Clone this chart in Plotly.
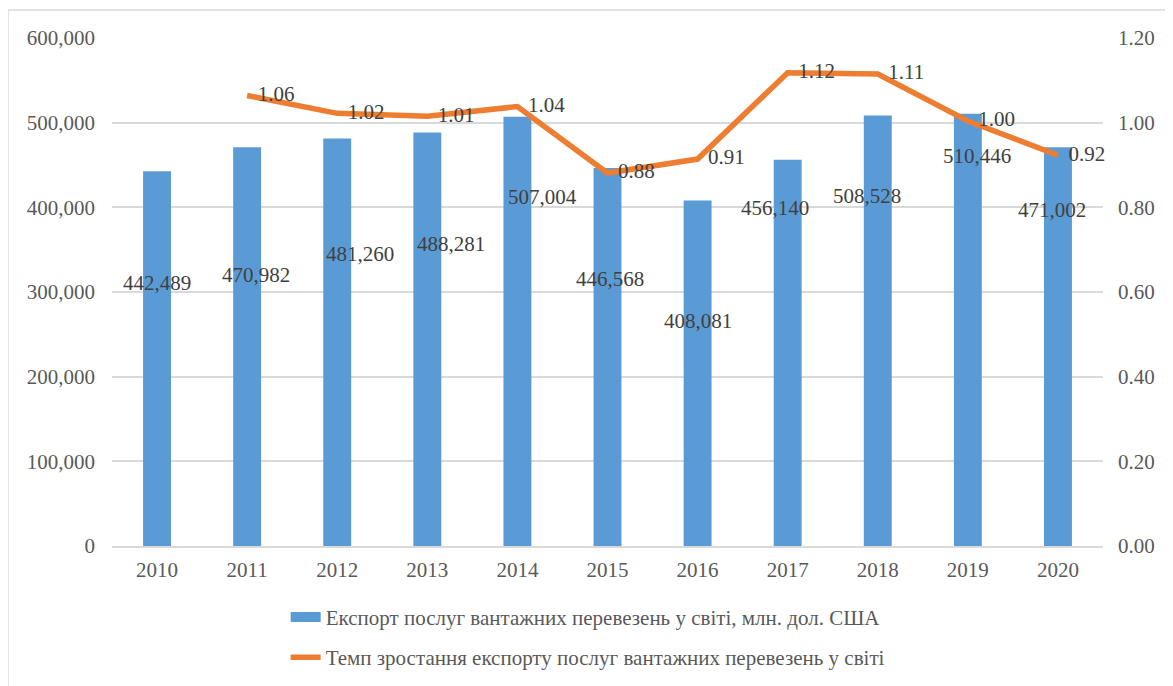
import plotly.graph_objects as go

years = ["2010", "2011", "2012", "2013", "2014", "2015", "2016", "2017", "2018", "2019", "2020"]
export_values = [442489, 470982, 481260, 488281, 507004, 446568, 408081, 456140, 508528, 510446, 471002]
growth_years = ["2011", "2012", "2013", "2014", "2015", "2016", "2017", "2018", "2019", "2020"]
growth_values = [1.064, 1.022, 1.015, 1.038, 0.881, 0.914, 1.118, 1.115, 1.004, 0.923]

# label placement (style only, separate from data)
bar_label_y = [310630, 320079, 344882, 356693, 412205, 315354, 265748, 399212, 413386, 460630, 396850]
bar_label_xshift = [0, 9, 23, 24, 25, 2, 0, -13, -11, 9, -6]

bar_name = "Експорт послуг вантажних перевезень у світі, млн. дол. США"
line_name = "Темп зростання експорту послуг вантажних перевезень у світі"

FONT = "Liberation Serif, Times New Roman, serif"
TXT = "#404040"
AX = "#595959"
BLUE = "#5B9BD5"
ORANGE = "#ED7D31"
FS = 21

fig = go.Figure()
fig.add_trace(go.Bar(
    x=years, y=export_values, name=bar_name,
    marker=dict(color=BLUE, line=dict(width=0)),
    yaxis="y", showlegend=False,
))
# legend entry drawn as a wide bar swatch
fig.add_trace(go.Scatter(
    x=[None], y=[None], name=bar_name, mode="lines",
    line=dict(color=BLUE, width=11), legendgroup="a",
))
fig.add_trace(go.Scatter(
    x=growth_years, y=growth_values, name=line_name,
    mode="lines+text", yaxis="y2", legendgroup="b",
    line=dict(color=ORANGE, width=5.5),
    text=["\u00a0\u00a0" + f"{v:.2f}" for v in growth_values],
    textposition="middle right",
    textfont=dict(family=FONT, size=FS, color=TXT),
    cliponaxis=False,
))

for i, (v, ly, dx) in enumerate(zip(export_values, bar_label_y, bar_label_xshift)):
    fig.add_annotation(x=i, y=ly, xref="x", yref="y", text=f"{v:,}", showarrow=False,
                       xshift=dx, font=dict(family=FONT, size=FS, color=TXT))

fig.add_shape(type="rect", xref="paper", yref="paper", x0=-0.105, y0=-0.5, x1=1.2, y1=1.055,
              line=dict(color="#d9d9d9", width=1.5), layer="below")

fig.update_layout(
    width=1173, height=686,
    margin=dict(l=104, r=78, t=30, b=148),
    paper_bgcolor="white", plot_bgcolor="white",
    font=dict(family=FONT, size=FS, color=AX),
    bargap=0.69,
    showlegend=True,
    legend=dict(orientation="v", x=0.48, xanchor="center", y=-0.1, yanchor="top",
                font=dict(family=FONT, size=FS, color=AX), tracegroupgap=10,
                bgcolor="rgba(0,0,0,0)"),
    xaxis=dict(type="category", range=[-0.5, len(years) - 0.5], showgrid=False, showline=True,
               linecolor="#d9d9d9", linewidth=1.5,
               ticks="", tickfont=dict(family=FONT, size=FS, color=AX), ticklabelstandoff=4),
    yaxis=dict(range=[0, 600000], dtick=100000, tickformat=",", showgrid=True, gridcolor="#d9d9d9",
               gridwidth=1.5, zeroline=False, showline=False, ticks="",
               tickfont=dict(family=FONT, size=FS, color=AX), ticklabelstandoff=16),
    yaxis2=dict(range=[0, 1.2], dtick=0.2, tickformat=".2f", overlaying="y", side="right",
                showgrid=False, zeroline=False, showline=False, ticks="",
                tickfont=dict(family=FONT, size=FS, color=AX), ticklabelstandoff=14),
)

fig.write_html("out.html")
